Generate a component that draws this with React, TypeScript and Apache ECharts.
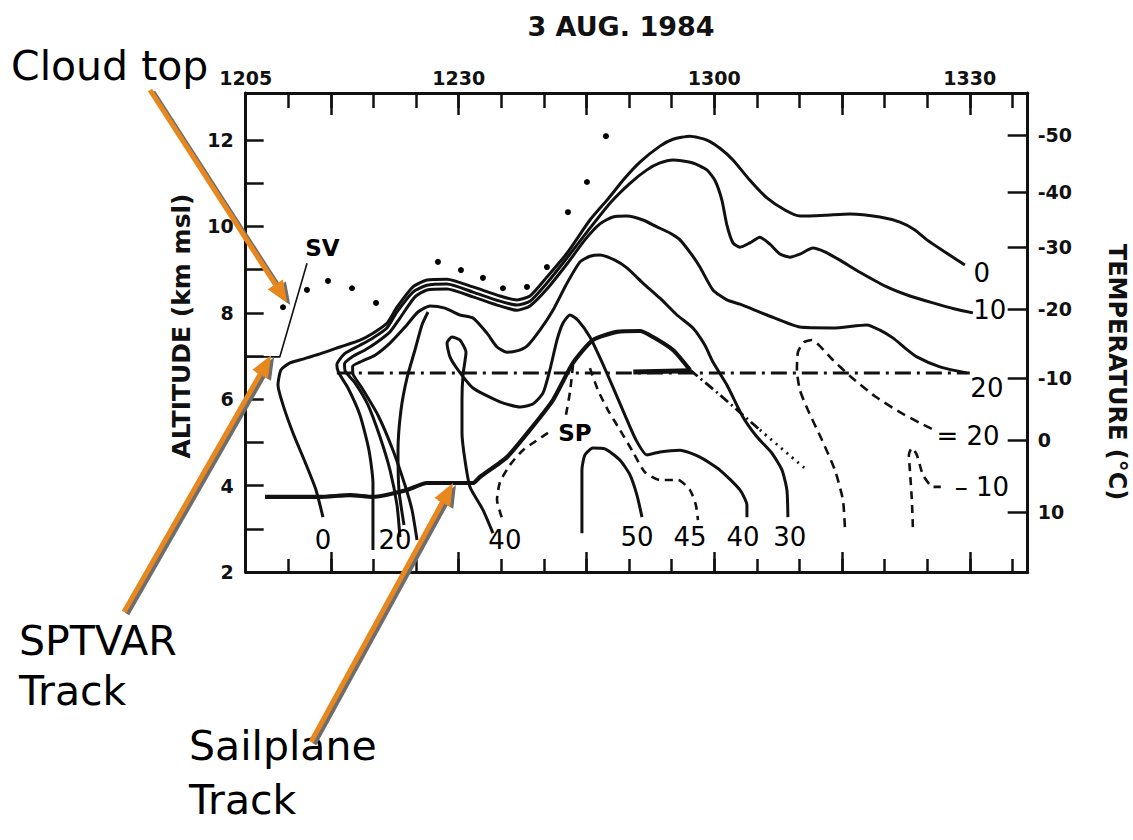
import React, { useEffect, useRef } from "react";
import * as echarts from "echarts";

// ---- axis data ----
const timeMin = 5; // minutes after 12:00
const timeMax = 96.8;
const altMin = 2;
const altMax = 13.09;
const timeLabelValues = [5, 30, 60, 90];
const timeLabels = ["1205", "1230", "1300", "1330"];
const longTimeTicks = [15, 30, 45, 60, 75, 90];
const altTicks = [3, 4, 5, 6, 7, 8, 9, 10, 11, 12];
const altLabelValues = [2, 4, 6, 8, 10, 12];
const tempLabels = ["-50", "-40", "-30", "-20", "-10", "0", "10"];
const tempAltitudes = [12.12, 10.8, 9.53, 8.09, 6.49, 5.06, 3.39];

// ---- contours [time (min after 1200), altitude km] ----
const contour0 = [[14.07,3.27],[13.25,3.9],[11.96,4.55],[10.55,5.22],[9.38,5.87],[8.79,6.33],[9.14,6.68],[10.2,6.84],[11.73,6.93],[13.72,7.05],[16.07,7.21],[18.42,7.37],[19.94,7.53],[21.58,7.76],[22.76,8.13],[24.64,8.6],[26.28,8.76],[28.63,8.78],[31.68,8.6],[34.85,8.39],[36.84,8.3],[38.37,8.39],[40.36,8.83],[42.71,9.38],[45.41,10.15],[47.41,10.61],[49.52,11.12],[51.28,11.49],[53.63,11.86],[55.16,12.02],[57.15,12.09],[59.14,12.0],[60.67,11.81],[62.2,11.54],[64.19,11.07],[66.19,10.66],[68.3,10.38],[70.06,10.24],[73.0,10.26],[75.93,10.29],[79.45,10.22],[81.8,10.1],[83.56,9.92],[84.97,9.69],[87.08,9.41],[89.43,9.11]];
const contour10 = [[19.94,2.51],[19.94,3.32],[19.94,4.06],[19.47,4.82],[18.42,5.63],[17.01,6.26],[15.9,6.62],[15.7,6.8],[16.65,7.06],[18.42,7.25],[19.94,7.42],[21.58,7.65],[22.76,8.02],[24.64,8.48],[26.28,8.64],[28.63,8.67],[31.68,8.48],[34.85,8.27],[36.84,8.18],[38.37,8.27],[40.36,8.69],[42.71,9.27],[45.41,9.96],[47.76,10.54],[50.11,11.0],[52.1,11.31],[53.63,11.47],[55.16,11.54],[57.5,11.47],[59.14,11.31],[60.08,11.07],[60.9,10.61],[61.49,10.03],[62.2,9.62],[63.02,9.52],[64.19,9.62],[65.36,9.75],[66.54,9.59],[67.71,9.36],[68.88,9.29],[70.06,9.36],[71.58,9.5],[72.99,9.41],[74.75,9.22],[77.1,8.94],[80.27,8.6],[82.97,8.39],[85.67,8.23],[88.25,8.09],[90.37,8.0]];
const contour20 = [[23.11,2.81],[22.76,3.55],[21.94,4.36],[20.76,5.13],[19.35,5.87],[17.83,6.38],[16.7,6.64],[16.6,6.82],[17.48,6.98],[19.0,7.14],[20.41,7.32],[21.94,7.56],[23.11,7.88],[24.87,8.37],[26.28,8.53],[28.63,8.55],[31.68,8.37],[34.85,8.16],[36.84,8.06],[38.37,8.16],[40.36,8.55],[42.71,9.13],[44.82,9.69],[46.58,10.06],[48.11,10.22],[49.75,10.24],[51.63,10.15],[53.28,9.99],[54.8,9.85],[55.98,9.69],[57.38,9.34],[58.32,9.06],[59.85,8.53],[61.49,8.3],[63.02,8.2],[66.19,7.95],[70.06,7.67],[73.93,7.65],[77.92,7.72],[79.45,7.6],[80.97,7.42],[82.38,7.19],[83.79,6.98],[86.49,6.75],[89.66,6.61]];
const contour30 = [[25.11,2.74],[24.52,3.44],[23.7,4.01],[22.29,4.82],[20.53,5.63],[18.65,6.26],[17.6,6.58],[17.55,6.76],[18.65,6.88],[20.18,7.02],[21.94,7.3],[23.7,7.67],[25.22,8.02],[26.63,8.16],[28.39,8.11],[30.15,7.95],[31.68,7.88],[33.32,7.53],[34.5,7.21],[35.67,7.09],[36.84,7.12],[38.02,7.23],[39.54,7.6],[41.07,8.06],[42.59,8.64],[44.24,9.18],[45.41,9.31],[46.58,9.34],[48.34,9.22],[49.75,9.04],[51.63,8.69],[53.63,8.34],[55.63,7.95],[57.5,7.65],[58.91,7.25],[59.85,6.86],[61.49,6.33],[63.37,5.59],[65.01,5.13],[66.78,4.75],[67.96,4.36],[68.53,3.9],[68.65,3.27]];
const contourInner = [[23.58,3.09],[22.99,3.9],[22.88,4.82],[23.23,5.75],[23.93,6.49],[24.87,7.14],[25.69,7.72],[26.4,8.02]];
const contour40 = [[34.03,2.9],[32.85,3.44],[31.33,3.97],[30.74,4.59],[30.39,5.22],[30.39,5.98],[30.51,6.56],[30.86,7.09],[30.15,7.37],[29.21,7.44],[28.63,7.3],[28.98,6.98],[29.92,6.68],[31.68,6.26],[34.85,5.94],[37.2,5.82],[38.72,5.89],[39.89,6.14],[40.71,6.68],[41.54,7.37],[42.24,7.76],[43.07,7.95],[44.0,7.83],[45.41,7.44],[46.82,6.86],[48.11,6.28],[49.52,5.63],[50.81,5.06],[52.1,4.71],[53.63,4.78],[55.98,4.82],[58.32,4.66],[60.67,4.36],[63.02,3.9],[63.84,3.55],[63.84,3.27]];
const contour50 = [[44.47,2.9],[44.47,3.67],[44.47,4.36],[44.82,4.71],[45.76,4.87],[47.17,4.85],[48.93,4.59],[50.11,4.25],[50.93,3.78],[51.52,3.27]];
const contour45 = [[45.41,6.72],[46.35,6.21],[47.52,5.75],[48.93,5.29],[50.46,4.78],[51.87,4.31],[53.63,4.13],[55.75,4.13],[57.15,3.9],[57.85,3.55],[58.09,3.2]];
const dashedSpUpper = [[43.42,6.79],[43.07,6.17],[42.59,5.63]];
const dashedSpLower = [[40.48,5.22],[37.55,4.82],[36.03,4.48],[34.85,4.08],[34.5,3.67],[35.08,3.25]];
const dashed20 = [[75.34,3.04],[75.11,3.67],[74.17,4.36],[72.64,5.06],[71.0,5.75],[70.06,6.21],[69.71,6.68],[69.83,7.09],[70.53,7.32],[71.47,7.37],[72.41,7.23],[73.93,6.91],[75.93,6.54],[78.86,6.07],[81.8,5.7],[84.15,5.45],[85.6,5.31]];
const dashed10 = [[83.32,3.04],[83.2,3.67],[82.97,4.36],[82.85,4.71],[83.2,4.87],[83.79,4.71],[84.5,4.25],[85.67,3.97],[86.6,3.97]];
const freezingLevel = [[15.7,6.61],[90.0,6.61]];

// ---- tracks ----
const sailplaneTrack = [[7.27,3.74],[13.72,3.74],[17.24,3.78],[19.94,3.74],[23.93,3.9],[26.28,4.06],[31.68,4.06],[32.5,4.2],[35.67,4.66],[38.37,5.29],[41.07,5.98],[43.42,6.84],[45.76,7.37],[48.58,7.56],[51.28,7.58],[52.81,7.44],[55.16,7.14],[57.15,6.68]];
const sailplaneLevel = [[50.5,6.63],[57.15,6.66]];
const sailplaneDescent = [[57.15,6.68],[60.67,6.1],[65.36,5.29]];
const sailplaneDescentDotted = [[65.36,5.29],[70.88,4.36]];
const sptvarTrack = [[5,6.98],[9.0,6.98],[12.2,9.15]];
const cloudTop = [[9.38,8.13],[12.19,8.53],[14.66,8.74],[17.48,8.57],[20.3,8.23],[27.57,9.18],[30.27,8.99],[32.85,8.81],[35.2,8.57],[38.02,8.6],[40.36,9.06],[42.83,10.33],[45.06,11.03],[47.29,12.09]];

// ---- in-plot labels [text, time, altitude] ----
const contourLabels: [string, number, number][] = [["0",14.07,2.74],["20",22.52,2.74],["40",35.43,2.74],["50",50.93,2.81],["45",57.15,2.81],["40",63.37,2.81],["30",68.88,2.81],["0",91.42,8.92],["10",92.36,8.06],["20",92.01,6.26],["= 20",89.8,5.15],["\u2013 10",91.42,3.97]];
const trackLabels: [string, number, number][] = [["SV",14.01,9.5],["SP",43.65,5.22]];

// annotation arrows: tip in data coords
const cloudTopTip = [9.88, 8.23];
const sptvarTip = [7.98, 7.02];
const sailplaneTip = [29.33, 4.06];

const INK = "#111";
const FONT = "DejaVu Sans";

function solid(data: number[][], width = 3) {
  return { type: "line", data, symbol: "none", smooth: 0.2, silent: true, lineStyle: { color: INK, width, opacity: 1 }, z: 3 };
}
function styled(data: number[][], type: any, width = 2.6) {
  return { type: "line", data, symbol: "none", smooth: 0.2, silent: true, lineStyle: { color: INK, width, type, opacity: 1 }, z: 3 };
}

function arrowEls(tail: number[], tip: number[]) {
  const [x1, y1] = tail;
  const [x2, y2] = tip;
  const dx = x2 - x1, dy = y2 - y1;
  const L = Math.hypot(dx, dy);
  const ux = dx / L, uy = dy / L;
  const hl = 22, hw = 9;
  const bx = x2 - ux * hl, by = y2 - uy * hl;
  const px = -uy, py = ux;
  const make = (ox: number, oy: number, color: string, z: number) => [
    { type: "line", z, shape: { x1: x1 + ox, y1: y1 + oy, x2: bx + ox, y2: by + oy }, style: { stroke: color, lineWidth: 5 } },
    { type: "polygon", z, shape: { points: [[x2 + ox, y2 + oy], [bx + px * hw + ox, by + py * hw + oy], [bx - px * hw + ox, by - py * hw + oy]] }, style: { fill: color } },
  ];
  return [...make(3, 2, "#6d6d6d", 100), ...make(0, 0, "#E8871E", 101)];
}

export default function App() {
  const ref = useRef<HTMLDivElement>(null);
  useEffect(() => {
    const chart = echarts.init(ref.current!, null, { renderer: "svg" });
    const tickStyle = { color: INK, width: 2.5 };
    const xBase = { type: "value", min: timeMin, max: timeMax, splitLine: { show: false } };
    const yBase = { type: "value", min: altMin, max: altMax, splitLine: { show: false } };
    const labelSeries = (list: [string, number, number][], size: number, weight: string) => ({
      type: "scatter", data: list.map(([t, x, a]) => ({ name: t, value: [x, a] })), symbolSize: 1, silent: true,
      itemStyle: { color: "rgba(0,0,0,0)", opacity: 1 }, z: 6,
      label: { show: true, position: "inside", formatter: "{b}", fontSize: size, fontWeight: weight, color: "#000", opacity: 1, fontFamily: FONT },
    });
    chart.setOption({
      animation: false,
      backgroundColor: "#fff",
      textStyle: { fontFamily: FONT },
      grid: { left: 245.7, top: 93, width: 782, height: 479, containLabel: false },
      xAxis: [
        { ...xBase, position: "bottom", interval: 5, axisLine: { show: true, lineStyle: { color: INK, width: 3 } }, axisTick: { show: true, inside: true, length: 13, lineStyle: tickStyle }, axisLabel: { show: false } },
        { ...xBase, position: "bottom", axisLine: { show: false }, axisTick: { show: true, inside: true, length: 20, customValues: longTimeTicks, lineStyle: tickStyle }, axisLabel: { show: false } },
        { ...xBase, position: "top", interval: 5, axisLine: { show: true, lineStyle: { color: INK, width: 3 } }, axisTick: { show: true, inside: true, length: 15, lineStyle: tickStyle },
          axisLabel: { show: true, customValues: timeLabelValues, margin: 6, fontSize: 19, fontWeight: "bold", color: INK, fontFamily: FONT,
            formatter: (v: number) => { const i = timeLabelValues.indexOf(v); return i >= 0 ? timeLabels[i] : ""; } } },
        { ...xBase, position: "top", axisLine: { show: false }, axisTick: { show: true, inside: true, length: 22, customValues: longTimeTicks, lineStyle: tickStyle }, axisLabel: { show: false } },
      ],
      yAxis: [
        { ...yBase, position: "left", axisLine: { show: true, lineStyle: { color: INK, width: 3 } }, axisTick: { show: true, inside: true, length: 18, customValues: altTicks, lineStyle: tickStyle },
          axisLabel: { show: true, customValues: altLabelValues, margin: 12, fontSize: 19, fontWeight: "bold", color: INK, fontFamily: FONT } },
        { ...yBase, position: "right", axisLine: { show: true, lineStyle: { color: INK, width: 3 } }, axisTick: { show: true, inside: true, length: 20, customValues: tempAltitudes, lineStyle: tickStyle },
          axisLabel: { show: true, customValues: tempAltitudes, margin: 10, fontSize: 19, fontWeight: "bold", color: INK, fontFamily: FONT,
            formatter: (v: number) => { let bi = 0; tempAltitudes.forEach((a, i) => { if (Math.abs(a - v) < Math.abs(tempAltitudes[bi] - v)) bi = i; }); return tempLabels[bi]; } } },
      ],
      series: [
        solid(contour0), solid(contour10), solid(contour20), solid(contour30), solid(contourInner), solid(contour40), solid(contour50),
        styled(contour45, [8, 6]), styled(dashedSpUpper, [8, 6]), styled(dashedSpLower, [8, 6]), styled(dashed20, [9, 6]), styled(dashed10, [8, 6]),
        { type: "line", data: freezingLevel, symbol: "none", silent: true, lineStyle: { color: INK, width: 3, type: [16, 6, 3, 6] }, z: 3 },
        { type: "line", data: sailplaneTrack, symbol: "none", smooth: 0.2, silent: true, lineStyle: { color: INK, width: 4.2 }, z: 4 },
        { type: "line", data: sailplaneLevel, symbol: "none", silent: true, lineStyle: { color: INK, width: 5 }, z: 4 },
        styled(sailplaneDescent, [10, 4, 2, 4], 2.8),
        styled(sailplaneDescentDotted, [2, 5], 2.8),
        { type: "line", data: sptvarTrack, symbol: "none", silent: true, lineStyle: { color: INK, width: 1.6 }, z: 3 },
        { type: "scatter", data: cloudTop, symbol: "circle", symbolSize: 6, silent: true, itemStyle: { color: "#000", opacity: 1 }, z: 5 },
        labelSeries(contourLabels, 26, "normal"),
        labelSeries(trackLabels, 23, "bold"),
      ],
    });

    const px = (p: number[]) => chart.convertToPixel({ seriesIndex: 0 }, p) as number[];
    const annFont = { fontSize: 41, fontFamily: FONT, fill: "#000", textAlign: "left", textVerticalAlign: "middle" };
    chart.setOption({
      graphic: [
        { type: "text", x: 621, y: 26, z: 50, style: { text: "3 AUG. 1984", fontSize: 27, fontWeight: "bold", fontFamily: FONT, fill: INK, textAlign: "center", textVerticalAlign: "middle" } },
        { type: "text", x: 181, y: 326, rotation: Math.PI / 2, z: 50, style: { text: "ALTITUDE (km msl)", fontSize: 25, fontWeight: "bold", fontFamily: FONT, fill: INK, textAlign: "center", textVerticalAlign: "middle" } },
        { type: "text", x: 1117, y: 372, rotation: -Math.PI / 2, z: 50, style: { text: "TEMPERATURE (\u00b0C)", fontSize: 24, fontWeight: "bold", fontFamily: FONT, fill: INK, textAlign: "center", textVerticalAlign: "middle" } },
        { type: "text", x: 11, y: 66, z: 50, style: { text: "Cloud top", ...annFont } },
        { type: "text", x: 19, y: 641, z: 50, style: { text: "SPTVAR", ...annFont } },
        { type: "text", x: 19, y: 691, z: 50, style: { text: "Track", ...annFont } },
        { type: "text", x: 189, y: 746, z: 50, style: { text: "Sailplane", ...annFont } },
        { type: "text", x: 189, y: 800, z: 50, style: { text: "Track", ...annFont } },
        ...arrowEls([150, 90], px(cloudTopTip)),
        ...arrowEls([124, 612], px(sptvarTip)),
        ...arrowEls([311, 742], px(sailplaneTip)),
      ],
    });
    return () => chart.dispose();
  }, []);
  return <div ref={ref} style={{ position: "fixed", left: 0, top: 0, width: 1133, height: 840, background: "#fff" }} />;
}
